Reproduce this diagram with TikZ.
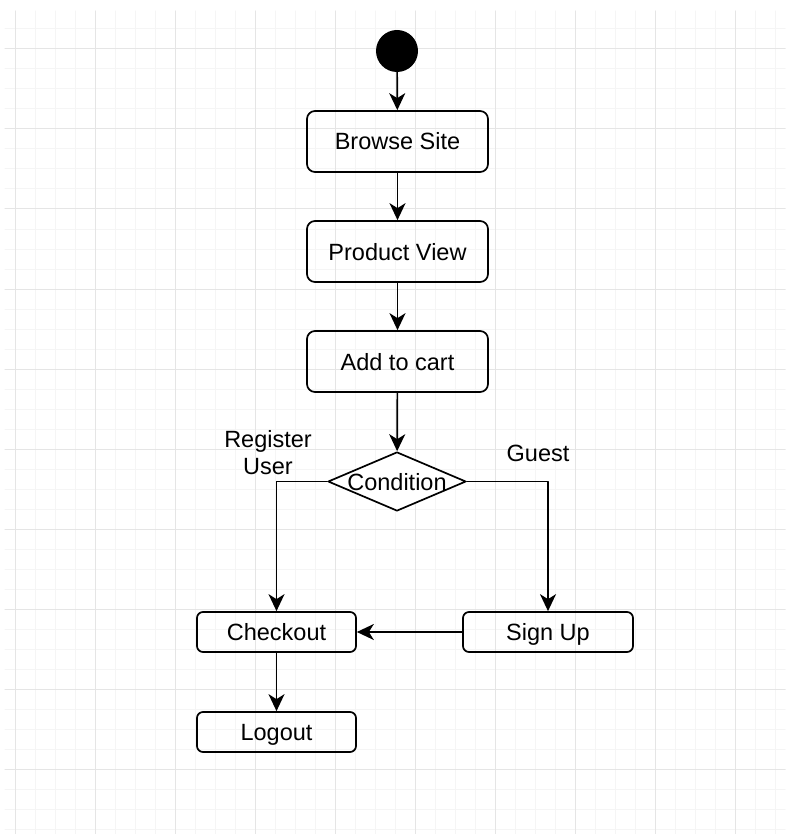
\documentclass[tikz,border=0pt]{standalone}
\usepackage{fontspec}
\setmainfont{Liberation Sans}
\usetikzlibrary{arrows.meta,shapes.geometric}
\definecolor{gridminor}{rgb}{0.96,0.96,0.96}
\definecolor{gridmajor}{rgb}{0.90,0.90,0.90}
\begin{document}
\begin{tikzpicture}[x=1pt,y=-1pt,line cap=round,line join=round,
  every node/.style={font=\fontsize{23.5}{27}\selectfont},
  actbox/.style={draw,line width=1.7pt,rounded corners=8pt,minimum width=181pt,minimum height=61pt,inner sep=0pt,text height=17pt,text depth=0pt},
  smallbox/.style={draw,line width=1.7pt,rounded corners=6pt,minimum height=40pt,inner sep=0pt,text height=17pt,text depth=0pt},
  arr/.style={line width=1.7pt,-{Stealth[length=17pt,width=16pt,inset=5pt]}}]
  \useasboundingbox (0,0) rectangle (785,834);
  \fill[white] (0,0) rectangle (785,834);
  % grid
  \foreach \gx in {15,35,...,775} \draw[gridminor,line width=1pt] (\gx,11)--(\gx,834);
  \foreach \gy in {29,49,...,829} \draw[gridminor,line width=1pt] (5,\gy)--(785,\gy);
  \foreach \gx in {15,95,...,735} \draw[gridmajor,line width=1pt] (\gx,11)--(\gx,834);
  \foreach \gy in {49,129,...,769} \draw[gridmajor,line width=1pt] (5,\gy)--(785,\gy);
  % nodes
  \node[circle,fill=black,minimum size=42pt,inner sep=0pt] (start) at (397,51) {};
  \node[actbox] (browse) at (397.5,141.5) {Browse Site};
  \node[actbox] (product) at (397.5,251.5) {Product View};
  \node[actbox] (cart) at (397.5,361.5) {Add to cart};
  \node[diamond,draw,fill=white,line width=1.7pt,minimum width=138pt,minimum height=59pt,inner sep=0pt,text height=17pt,text depth=0pt] (cond) at (397,481.5) {\makebox[0pt]{Condition}};
  \node[smallbox,minimum width=159pt] (checkout) at (276.5,632) {Checkout};
  \node[smallbox,minimum width=170pt] (signup) at (548,632) {Sign Up};
  \node[smallbox,minimum width=159pt] (logout) at (276.5,732) {Logout};
  \node[align=center] (reguser) at (268,453) {Register\\User};
  \node (guest) at (538,453) {Guest};
  % connectors
  \draw[arr] (start) -- (browse);
  \draw[arr] (browse) -- (product);
  \draw[arr] (product) -- (cart);
  \draw[arr] (cart) -- (cond);
  \draw[arr] (cond.west) -| (checkout.north);
  \draw[arr] (cond.east) -| (signup.north);
  \draw[arr] (signup) -- (checkout);
  \draw[arr] (checkout) -- (logout);
\end{tikzpicture}
\end{document}
